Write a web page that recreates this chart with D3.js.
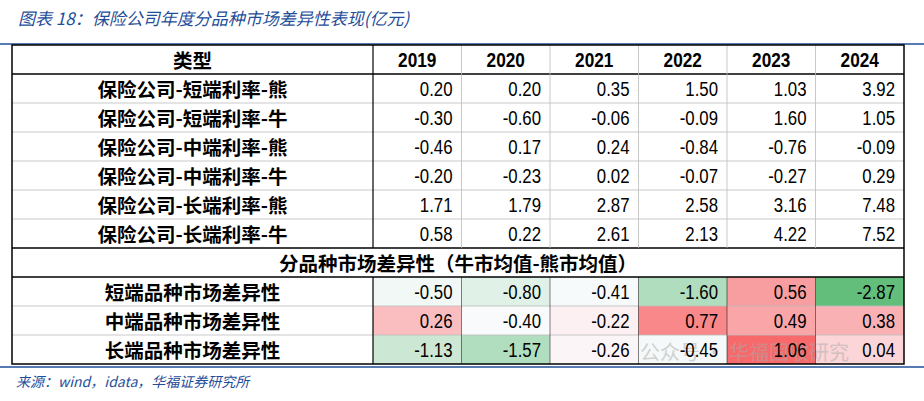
<!DOCTYPE html><html><head><meta charset="utf-8"><script src="https://cdn.jsdelivr.net/npm/d3@7"></script>
<style>body{margin:0;background:#fff}</style></head><body><svg id="c" width="924" height="401"></svg>
<script>
const years=["2019","2020","2021","2022","2023","2024"];
const topRows=["保险公司-短端利率-熊","保险公司-短端利率-牛","保险公司-中端利率-熊","保险公司-中端利率-牛","保险公司-长端利率-熊","保险公司-长端利率-牛"];
const topVals=[[0.20,0.20,0.35,1.50,1.03,3.92],[-0.30,-0.60,-0.06,-0.09,1.60,1.05],[-0.46,0.17,0.24,-0.84,-0.76,-0.09],[-0.20,-0.23,0.02,-0.07,-0.27,0.29],[1.71,1.79,2.87,2.58,3.16,7.48],[0.58,0.22,2.61,2.13,4.22,7.52]];
const botRows=["短端品种市场差异性","中端品种市场差异性","长端品种市场差异性"];
const botVals=[[-0.50,-0.80,-0.41,-1.60,0.56,-2.87],[0.26,-0.40,-0.22,0.77,0.49,0.38],[-1.13,-1.57,-0.26,-0.45,1.06,0.04]];
const svg=d3.select("#c");
const L=12,R=904,T=45,rh=29,lw=361;
const x=d3.scaleBand().domain(years).range([373,R]);
const y=d3.scaleBand().domain(d3.range(11)).range([T,T+rh*11]);
const col=d3.scaleLinear().domain([-2.87,-0.33,1.06]).range(["#63BE7B","#FCFCFF","#F8696B"]);
const cn="'Noto Sans CJK SC',sans-serif", num="'Liberation Sans',Arial,sans-serif";
svg.append("text").attr("x",18).attr("y",25).attr("fill","#1F4E9A").attr("font-family",cn).attr("font-style","italic").attr("font-size",17).text("图表 18：保险公司年度分品种市场差异性表现(亿元)");
svg.append("line").attr("x1",0).attr("x2",924).attr("y1",44).attr("y2",44).attr("stroke","#1F4E9A").attr("stroke-width",1.5);
botVals.forEach((r,i)=>r.forEach((v,j)=>svg.append("rect").attr("x",x(years[j])).attr("y",y(8+i)).attr("width",x.bandwidth()).attr("height",rh).attr("fill",col(v))));
svg.append("text").attr("x",640).attr("y",360).attr("font-family",cn).attr("font-size",20).attr("fill","#aaa").attr("opacity",0.5).text("公众号 · 华福固收研究");
const g=svg.append("g");
for(let i=1;i<11;i++){const k=(i==1||i==7||i==8);g.append("line").attr("x1",L).attr("x2",R).attr("y1",y(i)).attr("y2",y(i)).attr("stroke",k?"#000":"#bbb").attr("stroke-width",k?1.5:0.8);}
years.forEach((yr,j)=>{g.append("line").attr("x1",x(yr)).attr("x2",x(yr)).attr("y1",T).attr("y2",y(7)).attr("stroke",j==0?"#000":"#bbb").attr("stroke-width",j==0?1.2:0.8);
 g.append("line").attr("x1",x(yr)).attr("x2",x(yr)).attr("y1",y(8)).attr("y2",T+rh*11).attr("stroke","#000").attr("stroke-width",j==0?1.2:0.5);});
g.append("rect").attr("x",L).attr("y",T).attr("width",R-L).attr("height",rh*11).attr("fill","none").attr("stroke","#000").attr("stroke-width",1.5);
const lab=(t,cx,cy,opt={})=>{const s=opt.sx||1;return svg.append("text").attr("transform",`translate(${cx},${cy}) scale(${s},1)`).attr("text-anchor",opt.a||"middle").attr("dominant-baseline","central").attr("font-family",opt.f||cn).attr("font-weight",opt.w||"bold").attr("font-size",opt.s||19.5).attr("fill","#000").text(t);};
lab("类型",L+lw/2,y(0)+rh/2);
years.forEach(yr=>lab(yr,x(yr)+x.bandwidth()/2,y(0)+rh/2,{f:num,s:21,sx:0.82}));
const nopt={a:"end",f:num,w:"normal",s:21,sx:0.8};
topRows.forEach((r,i)=>{lab(r,L+lw/2,y(1+i)+rh/2);topVals[i].forEach((v,j)=>lab(v.toFixed(2),x(years[j])+x.bandwidth()-9,y(1+i)+rh/2,nopt));});
lab("分品种市场差异性（牛市均值-熊市均值）",(L+R)/2,y(7)+rh/2);
botRows.forEach((r,i)=>{lab(r,L+lw/2,y(8+i)+rh/2);botVals[i].forEach((v,j)=>lab(v.toFixed(2),x(years[j])+x.bandwidth()-9,y(8+i)+rh/2,nopt));});
svg.append("line").attr("x1",0).attr("x2",924).attr("y1",367).attr("y2",367).attr("stroke","#1F4E9A").attr("stroke-width",1.5);
svg.append("text").attr("x",16).attr("y",387).attr("fill","#1F4E9A").attr("font-family",cn).attr("font-style","italic").attr("font-size",14).text("来源：wind，idata，华福证券研究所");
</script></body></html>
